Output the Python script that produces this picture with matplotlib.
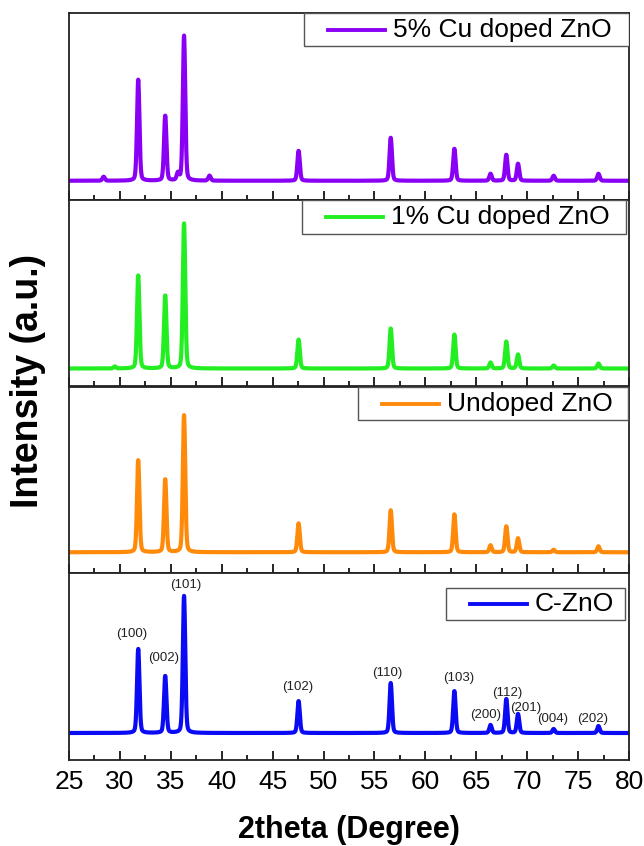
import numpy as np
import matplotlib
matplotlib.use("Agg")
import matplotlib.pyplot as plt
from matplotlib.patches import Rectangle
from matplotlib.lines import Line2D

plt.rcParams['font.family'] = ['Liberation Sans', 'DejaVu Sans']

# ---------------- data ----------------
peak_pos = [31.8, 34.45, 36.3, 47.55, 56.6, 62.85, 66.4, 67.95, 69.1, 72.6, 77.0]
hkl = ["(100)", "(002)", "(101)", "(102)", "(110)", "(103)", "(200)", "(112)", "(201)", "(004)", "(202)"]

series_names = ["5% Cu doped ZnO", "1% Cu doped ZnO", "Undoped ZnO", "C-ZnO"]
series_colors = ["#8A00F5", "#22EE22", "#FF8A0A", "#0A0AF5"]
baseline = [19, 18, 21, 27]
h_cu5 = [101, 65, 145, 30, 43, 32, 7, 26, 17, 5, 7]
h_cu1 = [93, 73, 145, 29, 40, 34, 6, 27, 14, 3, 5]
h_undoped = [92, 73, 137, 29, 42, 38, 7, 26, 14, 2.5, 6]
h_czno = [84, 57, 137, 32, 50, 42, 8, 34, 19, 4, 7]
heights = [h_cu5, h_cu1, h_undoped, h_czno]
# weak extra reflections seen in the doped samples
extra_pos = [[28.4, 35.7, 38.8], [29.5], [], []]
extra_h = [[4, 7, 5], [2], [], []]

# hkl label placement for C-ZnO panel (2theta, intensity)
lab_x = [31.2, 34.3, 36.5, 47.5, 56.3, 63.3, 65.9, 68.0, 69.9, 72.5, 76.4]
lab_y = [126, 102, 175, 73, 87, 82, 45, 67, 52, 41, 41]

x_ticks = [25, 30, 35, 40, 45, 50, 55, 60, 65, 70, 75, 80]

# ---------------- layout ----------------
W, H = 644, 846
ax_left_px, ax_right_px = 69, 629
top_px, panel_h_px = 13, 186.75
legend_left_px = [304, 302, 358, 446]
legend_right_px = [629, 626, 628, 625]
legend_top_off = [0, 0, 1, 15]      # px below panel top
legend_h_px = [33, 34, 33, 32]
line_len_px = 57
fwhm = 0.28

x = np.linspace(25, 80, 2751)


def profile(x, pos, hts, base):
    y = np.full_like(x, float(base))
    for p, h in zip(pos, hts):
        g = np.exp(-4 * np.log(2) * ((x - p) / fwhm) ** 2)
        l = 1.0 / (1.0 + 4 * ((x - p) / fwhm) ** 2)
        y += h * (0.75 * g + 0.25 * l)
    return y


fig = plt.figure(figsize=(W / 100, H / 100), dpi=100)
axes = []
for i in range(4):
    top = top_px + i * panel_h_px
    bottom = top + panel_h_px
    ax = fig.add_axes([ax_left_px / W, 1 - bottom / H,
                       (ax_right_px - ax_left_px) / W, panel_h_px / H])
    axes.append(ax)
    y = profile(x, peak_pos + extra_pos[i], heights[i] + extra_h[i], baseline[i])
    ax.plot(x, y, color=series_colors[i], lw=3.0, solid_joinstyle='round')
    ax.set_xlim(25, 80)
    ax.set_ylim(0, panel_h_px)
    ax.set_yticks([])
    ax.set_xticks(x_ticks)
    ax.set_xticks(np.arange(27.5, 80, 5), minor=True)
    ax.tick_params(axis='x', which='major', direction='in', length=6.5, width=1.2,
                   top=False, labelsize=19, pad=7, colors='black')
    ax.tick_params(axis='x', which='minor', direction='in', length=3.5, width=1.2, top=False)
    for s in ax.spines.values():
        s.set_linewidth(1.3)
        s.set_color('#222222')
    if i < 3:
        ax.tick_params(axis='x', labelbottom=False)

    # legend box
    bx0 = (legend_left_px[i] - ax_left_px) / (ax_right_px - ax_left_px)
    bx1 = (legend_right_px[i] - ax_left_px) / (ax_right_px - ax_left_px)
    by1 = 1 - legend_top_off[i] / panel_h_px
    by0 = by1 - legend_h_px[i] / panel_h_px
    ax.add_patch(Rectangle((bx0, by0), bx1 - bx0, by1 - by0, transform=ax.transAxes,
                           facecolor='white', edgecolor='#555555', lw=1.0, zorder=5))
    ymid = (by0 + by1) / 2
    lx0 = bx0 + 24 / (ax_right_px - ax_left_px)
    lx1 = lx0 + line_len_px / (ax_right_px - ax_left_px)
    ax.add_line(Line2D([lx0, lx1], [ymid, ymid], transform=ax.transAxes,
                       color=series_colors[i], lw=2.8, zorder=6))
    ax.text(lx1 + 8 / (ax_right_px - ax_left_px), ymid, series_names[i],
            transform=ax.transAxes, fontsize=19, va='center', ha='left',
            color='black', zorder=7)

# hkl labels on C-ZnO panel
for lx, ly, t in zip(lab_x, lab_y, hkl):
    axes[3].text(lx, ly, t, fontsize=9.5, ha='center', va='center', color='#222222')

fig.text((ax_left_px + ax_right_px) / 2 / W, 1 - 830 / H, "2theta (Degree)",
         fontsize=22, fontweight='bold', ha='center', va='center')
fig.text(28 / W, 1 - 381 / H, "Intensity (a.u.)", fontsize=27, fontweight='bold',
         rotation=90, ha='center', va='center')

fig.savefig("out.png", dpi=100)
